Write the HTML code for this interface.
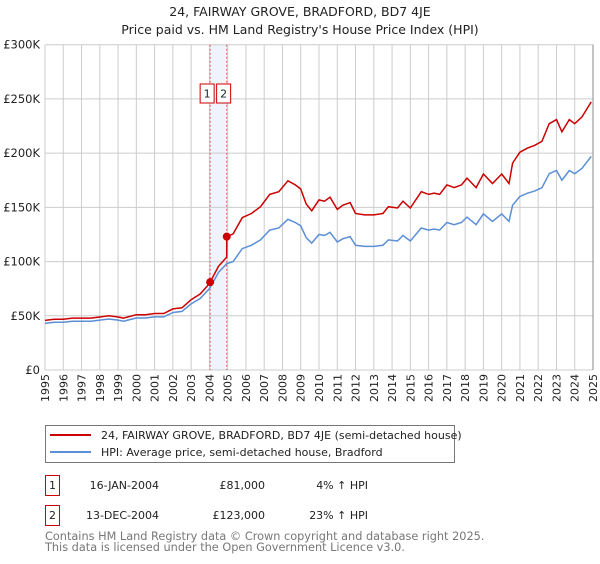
<!DOCTYPE html>
<html><head><meta charset="utf-8"><style>
body{margin:0;background:#fff;font-family:"DejaVu Sans","Liberation Sans",sans-serif;}
svg text{font-family:"DejaVu Sans","Liberation Sans",sans-serif;}
</style></head><body>
<svg id="chart" width="600" height="560" xmlns="http://www.w3.org/2000/svg">
<text x="300" y="16" text-anchor="middle" font-size="12.5" fill="#222">24, FAIRWAY GROVE, BRADFORD, BD7 4JE</text>
<text x="300" y="34" text-anchor="middle" font-size="12.5" fill="#222">Price paid vs. HM Land Registry's House Price Index (HPI)</text>
<g id="grid"></g><g id="series"></g><g id="axes"></g>
<g>
<rect x="45.5" y="425.5" width="409" height="37" fill="#fff" stroke="#777"/>
<line x1="50" y1="435" x2="91" y2="435" stroke="#cc0000" stroke-width="2"/>
<text x="101" y="439" font-size="11" fill="#222">24, FAIRWAY GROVE, BRADFORD, BD7 4JE (semi-detached house)</text>
<line x1="50" y1="452" x2="91" y2="452" stroke="#5b8fd6" stroke-width="2"/>
<text x="101" y="456" font-size="11" fill="#222">HPI: Average price, semi-detached house, Bradford</text>
</g>
<g font-size="11" fill="#222">
<rect x="45.5" y="475.5" width="14" height="20" fill="none" stroke="#cc0000"/>
<text x="52.5" y="489" text-anchor="middle">1</text>
<text x="159" y="489" text-anchor="end">16-JAN-2004</text>
<text x="265" y="489" text-anchor="end">£81,000</text>
<text x="368" y="489" text-anchor="end">4% ↑ HPI</text>
<rect x="45.5" y="505.5" width="14" height="20" fill="none" stroke="#cc0000"/>
<text x="52.5" y="519" text-anchor="middle">2</text>
<text x="159" y="519" text-anchor="end">13-DEC-2004</text>
<text x="265" y="519" text-anchor="end">£123,000</text>
<text x="368" y="519" text-anchor="end">23% ↑ HPI</text>
</g>
<text x="45" y="540" font-size="11.3" fill="#777">Contains HM Land Registry data © Crown copyright and database right 2025.</text>
<text x="45" y="551" font-size="11.3" fill="#777">This data is licensed under the Open Government Licence v3.0.</text>
</svg>
<script>
const hpiYears=[1995,1995.5,1996,1996.5,1997,1997.5,1998,1998.5,1999,1999.3,2000,2000.5,2001,2001.5,2002,2002.5,2003,2003.5,2004,2004.5,2004.95,2005.3,2005.8,2006.3,2006.8,2007.3,2007.8,2008.3,2008.7,2009,2009.3,2009.6,2010,2010.3,2010.6,2011,2011.3,2011.7,2012,2012.5,2013,2013.5,2013.8,2014.3,2014.6,2015,2015.6,2016,2016.3,2016.6,2017,2017.4,2017.8,2018.1,2018.6,2019,2019.5,2020,2020.4,2020.6,2021,2021.4,2021.8,2022.2,2022.6,2023,2023.3,2023.7,2024,2024.4,2024.9];
const hpiValues=[43,44,44,45,45,45,46,47,46,45,48,48,49,49,53,54,61,66,75,90,98,100,112,115,120,129,131,139,136,133,122,117,125,124,127,118,121,123,115,114,114,115,120,119,124,119,131,129,130,129,136,134,136,141,134,144,137,144,137,152,160,163,165,168,181,184,175,184,181,186,197];
const saleYears=[2004.04,2004.95];
const salePrices=[81,123];
const yTicks=[0,50,100,150,200,250,300];
const yTickLabels=['£0','£50K','£100K','£150K','£200K','£250K','£300K'];
const xTicks=[1995,1996,1997,1998,1999,2000,2001,2002,2003,2004,2005,2006,2007,2008,2009,2010,2011,2012,2013,2014,2015,2016,2017,2018,2019,2020,2021,2022,2023,2024,2025];
const NS='http://www.w3.org/2000/svg';
const X=y=>45+(y-1995)*(548/30);
const Y=v=>370-v*(325.3/300);
function el(t,a,p){const e=document.createElementNS(NS,t);for(const k in a)e.setAttribute(k,a[k]);p.appendChild(e);return e;}
function hpiAt(t){for(let i=1;i<hpiYears.length;i++){if(t<=hpiYears[i]){const f=(t-hpiYears[i-1])/(hpiYears[i]-hpiYears[i-1]);return hpiValues[i-1]+f*(hpiValues[i]-hpiValues[i-1]);}}return hpiValues[hpiValues.length-1];}
const grid=document.getElementById('grid'),axes=document.getElementById('axes'),ser=document.getElementById('series');
const band=el('rect',{x:X(saleYears[0]),y:Y(300),width:X(saleYears[1])-X(saleYears[0]),height:Y(0)-Y(300),fill:'#eef3fc'},grid);


xTicks.forEach(t=>{const l=el('line',{x1:X(t),x2:X(t),y1:Y(300),y2:Y(0),stroke:'#ccc'},grid);


const tx=el('text',{x:0,y:0,transform:`translate(${X(t)+4},374) rotate(-90)`,'text-anchor':'end','font-size':'11',fill:'#222'},axes);tx.textContent=t;

});
yTicks.forEach((v,i)=>{const l=el('line',{x1:45,x2:593,y1:Y(v),y2:Y(v),stroke:'#ccc'},grid);


const tx=el('text',{x:40,y:Y(v)+4,'text-anchor':'end','font-size':'11.5',fill:'#222'},axes);tx.textContent=yTickLabels[i];

});
el('line',{x1:593,x2:593,y1:Y(300),y2:Y(0),stroke:'#888'},grid);
const box0=X(saleYears[0])-10;
saleYears.forEach((s,i)=>{const l=el('line',{x1:X(s),x2:X(s),y1:Y(300),y2:Y(0),stroke:'#e55','stroke-dasharray':'2,2'},grid);


const bx=box0+i*16.5;
const r=el('rect',{x:bx,y:84,width:14,height:19,fill:'#fff',stroke:'#cc0000'},axes);


const tx=el('text',{x:bx+7,y:97.5,'text-anchor':'middle','font-size':'11',fill:'#222'},axes);tx.textContent=i+1;});
let d='';hpiYears.forEach((t,i)=>{d+=(i?'L':'M')+X(t).toFixed(1)+','+Y(hpiValues[i]).toFixed(1);});
const hp=el('path',{d:d,fill:'none',stroke:'#5b8fd6','stroke-width':1.5},ser);


function propAt(t){let k=0;if(t>=saleYears[1])k=1;const ref=hpiAt(saleYears[k]);return hpiAt(t)*salePrices[k]/ref;}
let pts=hpiYears.filter(t=>t<saleYears[1]).concat([saleYears[1]-0.001,saleYears[1]]).concat(hpiYears.filter(t=>t>saleYears[1]));
pts=pts.concat([saleYears[0]]).sort((a,b)=>a-b);
let d2='';pts.forEach((t,i)=>{d2+=(i?'L':'M')+X(t).toFixed(1)+','+Y(propAt(t)).toFixed(1);});
const pp=el('path',{d:d2,fill:'none',stroke:'#cc0000','stroke-width':1.5},ser);


saleYears.forEach((s,i)=>{const c=el('circle',{cx:X(s),cy:Y(salePrices[i]),r:4,fill:'#cc0000'},ser);

});
</script>
</body></html>
